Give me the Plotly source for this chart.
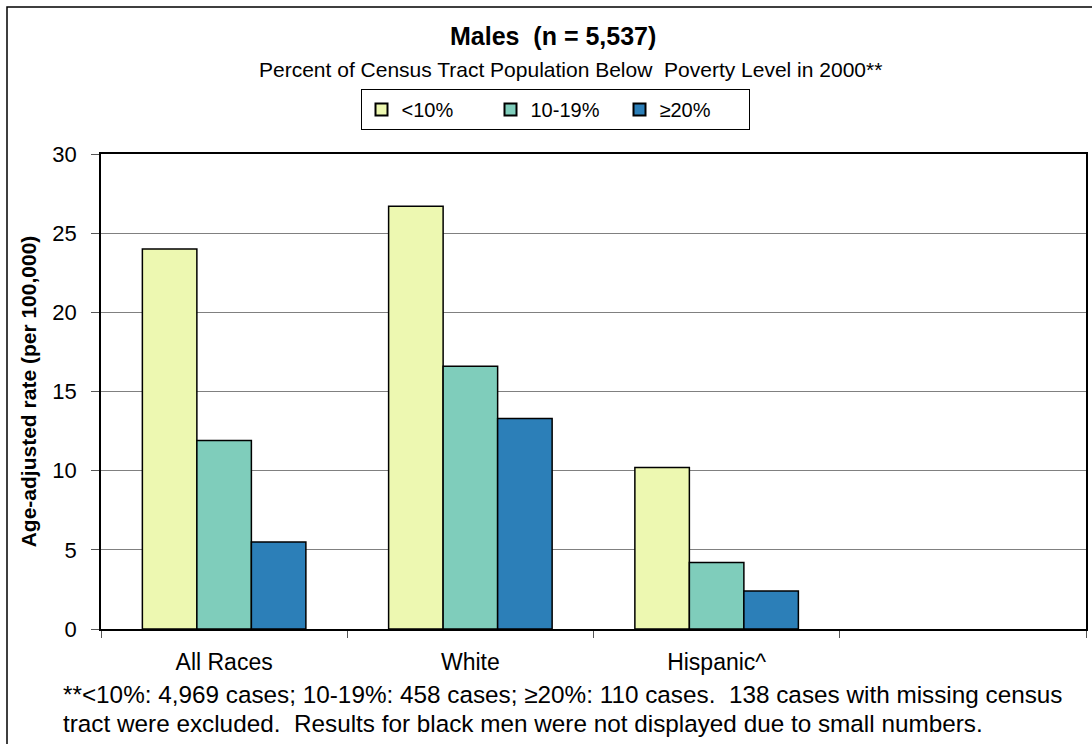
import plotly.graph_objects as go

categories = ["All Races", "White", "Hispanic^", " "]
series_names = ["<10%", "10-19%", "≥20%"]
values_lt10 = [24.0, 26.7, 10.2, None]
values_10_19 = [11.9, 16.6, 4.2, None]
values_ge20 = [5.5, 13.3, 2.4, None]
colors = ["#EDF8B1", "#7FCDBB", "#2C7FB8"]

W, H = 1092, 744
L, R, T, B = 101, 1086, 154, 629
PW, PH = R - L, B - T


def xp(px):
    return (px - L) / PW


def yp(py):
    return (B - py) / PH


FONT = "Liberation Sans, Arial, sans-serif"

fig = go.Figure()
for name, vals, col in zip(series_names, [values_lt10, values_10_19, values_ge20], colors):
    fig.add_trace(go.Bar(
        x=categories, y=vals, name=name,
        marker=dict(color=col, line=dict(color="black", width=1.5)),
    ))

fig.update_layout(
    width=W, height=H,
    margin=dict(l=L, r=W - R, t=T, b=H - B, autoexpand=False),
    paper_bgcolor="white", plot_bgcolor="white",
    barmode="group", bargap=0.336, bargroupgap=0,
    font=dict(family=FONT, color="black"),
    showlegend=True,
    legend=dict(
        orientation="h", x=xp(555), xanchor="center", y=yp(89), yanchor="top",
        bordercolor="black", borderwidth=1, bgcolor="white",
        font=dict(size=20, family=FONT),
        entrywidth=84, entrywidthmode="pixels",
        itemsizing="constant",
    ),
    xaxis=dict(
        type="category", categoryorder="array", categoryarray=categories,
        showline=True, linecolor="black", linewidth=1.5, mirror=True,
        ticks="outside", tickson="boundaries", ticklen=7, tickcolor="#555555",
        tickfont=dict(size=23, family=FONT), showgrid=False,
        ticklabelstandoff=12,
    ),
    yaxis=dict(
        range=[0, 30], dtick=5, tick0=0,
        showline=True, linecolor="black", linewidth=1.5, mirror=True,
        ticks="outside", ticklen=8, tickcolor="#555555",
        tickfont=dict(size=22, family=FONT),
        ticklabelstandoff=10,
        showgrid=True, gridcolor="#808080", gridwidth=1,
        zeroline=False,
        title=dict(text="<b>Age-adjusted rate (per 100,000)</b>", font=dict(size=21, family=FONT), standoff=10),
    ),
)

annotations = [
    dict(text="<b>Males  (n = 5,537)</b>", x=xp(553), y=yp(36), size=25),
    dict(text="Percent of Census Tract Population Below  Poverty Level in 2000**", x=xp(570), y=yp(69), size=21),
]
for a in annotations:
    fig.add_annotation(xref="paper", yref="paper", showarrow=False, xanchor="center", yanchor="middle",
                       font=dict(family=FONT, color="black", size=a["size"]), text=a["text"], x=a["x"], y=a["y"])

foot_lines = [
    "**<10%: 4,969 cases; 10-19%: 458 cases; ≥20%: 110 cases.  138 cases with missing census",
    "tract were excluded.  Results for black men were not displayed due to small numbers.",
]
for i, line in enumerate(foot_lines):
    fig.add_annotation(xref="paper", yref="paper", showarrow=False, xanchor="left", yanchor="middle",
                       x=xp(61), y=yp(694 + 29 * i), text=line, font=dict(family=FONT, size=24.3, color="black"))

fig.add_shape(type="rect", xref="paper", yref="paper",
              x0=xp(7), x1=xp(1110), y0=yp(770), y1=yp(7),
              line=dict(color="black", width=1.5), fillcolor="rgba(0,0,0,0)", layer="below")

fig.write_html("out.html", config={"displayModeBar": False},
               post_script="document.body.style.margin='0';document.body.style.overflow='hidden';")
